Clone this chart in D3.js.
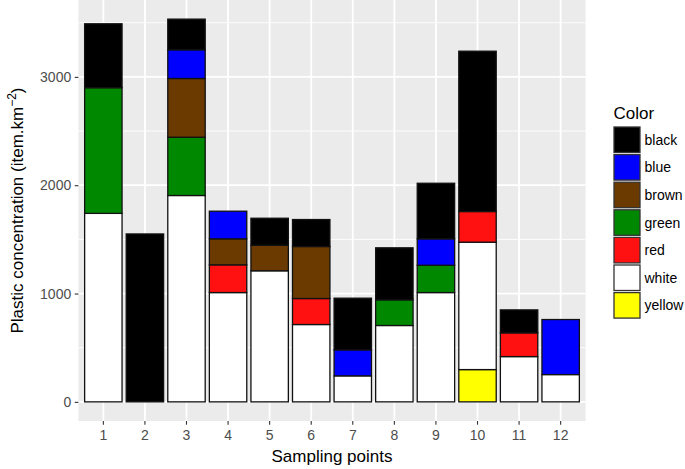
<!DOCTYPE html>
<html>
<head>
<meta charset="utf-8">
<script src="https://cdn.jsdelivr.net/npm/d3@7"></script>
<style>
  body { margin: 0; background: #fff; }
  text { font-family: "Liberation Sans", Arial, sans-serif; }
</style>
</head>
<body>
<svg id="chart" width="685" height="469"></svg>
<script>
'use strict'
// sampling points
var points = ["1", "2", "3", "4", "5", "6", "7", "8", "9", "10", "11", "12"];
// legend order (top of stack first)
var colorNames = ["black", "blue", "brown", "green", "red", "white", "yellow"];
var colorFills = ["#000000", "#0000FF", "#6B3A00", "#008800", "#FF1111", "#FFFFFF", "#FFFF00"];
// values per colour, item.km-2
var black  = [590, 1550, 283, 0, 249, 249, 477, 480, 513, 1480, 212, 0];
var blue   = [0, 0, 265, 255, 0, 0, 240, 0, 244, 0, 0, 508];
var brown  = [0, 0, 542, 240, 236, 480, 0, 0, 0, 0, 0, 0];
var green  = [1160, 0, 538, 0, 0, 0, 0, 237, 252, 0, 0, 0];
var red    = [0, 0, 0, 256, 0, 240, 0, 0, 0, 283, 219, 0];
var white  = [1740, 0, 1905, 1009, 1210, 714, 240, 705, 1009, 1176, 418, 252];
var yellow = [0, 0, 0, 0, 0, 0, 0, 0, 0, 298, 0, 0];
var yTicks = [0, 1000, 2000, 3000];
var yMinor = [500, 1500, 2500, 3500];

var series = { black: black, blue: blue, brown: brown, green: green, red: red, white: white, yellow: yellow };

// table for d3.stack
var rows = points.map(function (p, i) {
    var r = { point: p };
    colorNames.forEach(function (c) { r[c] = series[c][i]; });
    return r;
});

var svg = d3.select("#chart");
var panel = { left: 78.4, right: 585.6, top: 0, bottom: 421 };

var x = d3.scaleBand()
    .domain(points)
    .range([panel.left, panel.right])
    .paddingInner(0.1)
    .paddingOuter(0.15);

// stack bottom -> top is reverse of legend order
var stack = d3.stack().keys(colorNames.slice().reverse());
var stacked = stack(rows);
var maxV = d3.max(stacked, function (s) { return d3.max(s, function (d) { return d[1]; }); });
var pad = maxV * 0.05;

var y = d3.scaleLinear()
    .domain([-pad, maxV + pad])
    .range([panel.bottom, panel.top]);

var fill = d3.scaleOrdinal().domain(colorNames).range(colorFills);

// panel background
svg.append("rect")
    .attr("x", panel.left).attr("y", panel.top)
    .attr("width", panel.right - panel.left)
    .attr("height", panel.bottom - panel.top)
    .attr("fill", "#EBEBEB");

// minor grid
svg.append("g").selectAll("line")
    .data(yMinor).enter().append("line")
    .attr("x1", panel.left).attr("x2", panel.right)
    .attr("y1", function (d) { return y(d); })
    .attr("y2", function (d) { return y(d); })
    .attr("stroke", "#fff").attr("stroke-width", 0.9);

// major grid
svg.append("g").selectAll("line")
    .data(yTicks).enter().append("line")
    .attr("x1", panel.left).attr("x2", panel.right)
    .attr("y1", function (d) { return y(d); })
    .attr("y2", function (d) { return y(d); })
    .attr("stroke", "#fff").attr("stroke-width", 1.8);

svg.append("g").selectAll("line")
    .data(points).enter().append("line")
    .attr("x1", function (d) { return x(d) + x.bandwidth() / 2; })
    .attr("x2", function (d) { return x(d) + x.bandwidth() / 2; })
    .attr("y1", panel.top).attr("y2", panel.bottom)
    .attr("stroke", "#fff").attr("stroke-width", 1.8);

// bars
var layers = svg.append("g").selectAll("g")
    .data(stacked).enter().append("g")
    .attr("fill", function (d) { return fill(d.key); });

layers.selectAll("rect")
    .data(function (d) { return d.filter(function (v) { return v[1] - v[0] > 0; }); })
    .enter().append("rect")
    .attr("x", function (d) { return x(d.data.point); })
    .attr("y", function (d) { return y(d[1]); })
    .attr("width", x.bandwidth())
    .attr("height", function (d) { return y(d[0]) - y(d[1]); })
    .attr("stroke", "#111")
    .attr("stroke-width", 1.3);

// axes
var xAxis = svg.append("g")
    .attr("transform", "translate(0," + panel.bottom + ")")
    .call(d3.axisBottom(x).tickSize(3.7).tickPadding(5.5));
var yAxis = svg.append("g")
    .attr("transform", "translate(" + panel.left + ",0)")
    .call(d3.axisLeft(y).tickValues(yTicks).tickSize(3.7).tickPadding(3.5).tickFormat(d3.format("d")));

[xAxis, yAxis].forEach(function (a) {
    a.select(".domain").remove();
    a.selectAll(".tick line").attr("stroke", "#333").attr("stroke-width", 1.1);
    a.selectAll(".tick text")
        .attr("fill", "#4D4D4D")
        .style("font-size", "14px")
        .style("font-family", "'Liberation Sans', Arial, sans-serif");
});

// axis titles
svg.append("text")
    .attr("x", (panel.left + panel.right) / 2)
    .attr("y", 462)
    .attr("text-anchor", "middle")
    .style("font-size", "17px")
    .text("Sampling points");

var yt = svg.append("text")
    .attr("transform", "translate(23," + (panel.top + panel.bottom) / 2 + ") rotate(-90)")
    .attr("text-anchor", "middle")
    .style("font-size", "17px");
yt.append("tspan").text("Plastic concentration (item.km");
yt.append("tspan").attr("dy", "-7").style("font-size", "12px").text("\u22122");
yt.append("tspan").attr("dy", "7").text(")");

// legend
var legend = svg.append("g").attr("transform", "translate(613.5,0)");
legend.append("text")
    .attr("x", 0).attr("y", 119)
    .style("font-size", "17px")
    .text("Color");

var keys = legend.selectAll("g.key")
    .data(colorNames).enter().append("g")
    .attr("class", "key")
    .attr("transform", function (d, i) { return "translate(0," + (127 + i * 27.6) + ")"; });

keys.append("rect")
    .attr("x", 0.5).attr("y", 0)
    .attr("width", 26).attr("height", 25.5)
    .attr("fill", function (d) { return fill(d); })
    .attr("stroke", "#333")
    .attr("stroke-width", 1.3);

keys.append("text")
    .attr("x", 31).attr("y", 13)
    .attr("dy", "0.35em")
    .style("font-size", "14px")
    .attr("fill", "#000")
    .text(function (d) { return d; });
</script>
</body>
</html>
